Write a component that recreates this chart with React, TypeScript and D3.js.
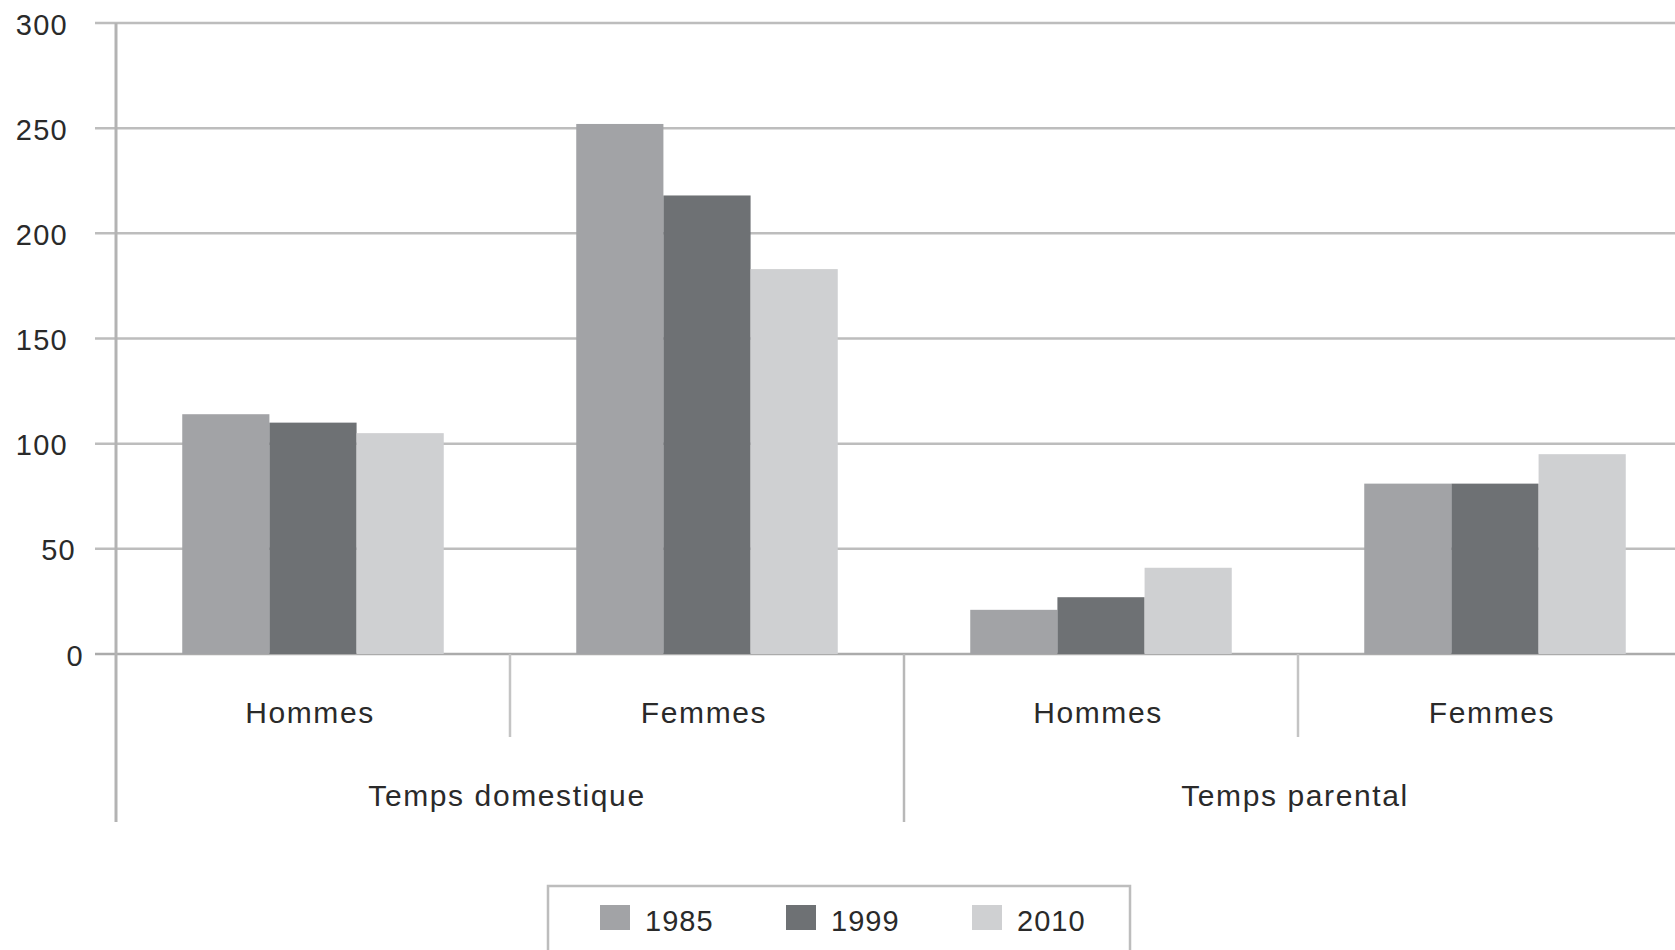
import React from "react";
import * as d3 from "d3";

// categories (two levels) and yearly series
const groups = ["Temps domestique", "Temps parental"];
const subCategories = ["Hommes", "Femmes"];
const years = ["1985", "1999", "2010"];
const values1985 = [114, 252, 21, 81];
const values1999 = [110, 218, 27, 81];
const values2010 = [105, 183, 41, 95];
const yTicks = [0, 50, 100, 150, 200, 250, 300];

const colors = ["#a2a3a6", "#6e7174", "#cfd0d2"];

const width = 1675;
const height = 950;
const margin = { top: 23, left: 116, bottom: 654, right: 1692 };

function App() {
    const series = [values1985, values1999, values2010];
    const cells = groups.flatMap((g) => subCategories.map((s) => g + "|" + s));

    const yScale = d3.scaleLinear().domain([0, 300]).range([margin.bottom, margin.top]);

    const x0 = d3.scaleBand().domain(cells).range([margin.left, margin.right]).padding(0);
    const xGroup = d3.scaleBand().domain(groups).range([margin.left, margin.right]).padding(0);
    const x1 = d3
        .scaleBand()
        .domain(years)
        .range([0, x0.bandwidth()])
        .paddingInner(0)
        .paddingOuter(0.76);

    const colorScale = d3.scaleOrdinal<string, string>().domain(years).range(colors);

    const labelFont = "'Liberation Sans', Arial, sans-serif";
    const textColor = "#2a2a2a";

    return (
        <svg
            width={width}
            height={height}
            style={{ position: "absolute", left: 0, top: 0, background: "#fff" }}
        >
            {/* grid lines */}
            {yTicks.map((t) => (
                <line
                    key={"g" + t}
                    x1={95}
                    x2={width}
                    y1={yScale(t)}
                    y2={yScale(t)}
                    stroke={t === 0 ? "#ababab" : "#bdbdbd"}
                    strokeWidth={2.5}
                />
            ))}
            {/* y tick labels */}
            {yTicks.map((t) => (
                <text
                    key={"t" + t}
                    x={68 + (3 - String(t).length) * 8}
                    y={yScale(t) + 4}
                    textAnchor="end"
                    dominantBaseline="middle"
                    fontFamily={labelFont}
                    fontSize={29}
                    letterSpacing={1.3}
                    fill={textColor}
                >
                    {t}
                </text>
            ))}

            {/* bars */}
            {cells.map((c, i) =>
                years.map((yr, j) => (
                    <rect
                        key={c + yr}
                        x={(x0(c) as number) + (x1(yr) as number)}
                        y={yScale(series[j][i])}
                        width={x1.bandwidth()}
                        height={yScale(0) - yScale(series[j][i])}
                        fill={colorScale(yr)}
                    />
                ))
            )}

            {/* y axis line */}
            <line x1={margin.left} x2={margin.left} y1={margin.top} y2={822} stroke="#b3b3b3" strokeWidth={3} />

            {/* inner separators */}
            {cells.map((c, i) =>
                i % 2 === 1 ? (
                    <line
                        key={"s" + c}
                        x1={x0(c) as number}
                        x2={x0(c) as number}
                        y1={margin.bottom}
                        y2={737}
                        stroke="#c4c4c4"
                        strokeWidth={2.5}
                    />
                ) : null
            )}
            {/* group separators */}
            {groups.map((g) => (
                <line
                    key={"gs" + g}
                    x1={(xGroup(g) as number) + xGroup.bandwidth()}
                    x2={(xGroup(g) as number) + xGroup.bandwidth()}
                    y1={margin.bottom}
                    y2={822}
                    stroke="#b8b8b8"
                    strokeWidth={2.5}
                />
            ))}

            {/* sub category labels */}
            {cells.map((c) => (
                <text
                    key={"l" + c}
                    x={(x0(c) as number) + x0.bandwidth() / 2 - 3}
                    y={715}
                    textAnchor="middle"
                    dominantBaseline="middle"
                    fontFamily={labelFont}
                    fontSize={30}
                    letterSpacing={1.6}
                    fill={textColor}
                >
                    {c.split("|")[1]}
                </text>
            ))}
            {/* group labels */}
            {groups.map((g) => (
                <text
                    key={"gl" + g}
                    x={(xGroup(g) as number) + xGroup.bandwidth() / 2 - 3}
                    y={798}
                    textAnchor="middle"
                    dominantBaseline="middle"
                    fontFamily={labelFont}
                    fontSize={30}
                    letterSpacing={1.6}
                    fill={textColor}
                >
                    {g}
                </text>
            ))}

            {/* legend */}
            <rect x={548} y={886} width={582} height={80} fill="#fff" stroke="#bdbdbd" strokeWidth={2.5} />
            {years.map((yr, j) => (
                <g key={"lg" + yr} transform={`translate(${600 + j * 186},905)`}>
                    <rect width={30} height={25} fill={colorScale(yr)} />
                    <text
                        x={45}
                        y={18}
                        dominantBaseline="middle"
                        fontFamily={labelFont}
                        fontSize={29}
                        letterSpacing={1}
                        fill={textColor}
                    >
                        {yr}
                    </text>
                </g>
            ))}
        </svg>
    );
}

export default App;
